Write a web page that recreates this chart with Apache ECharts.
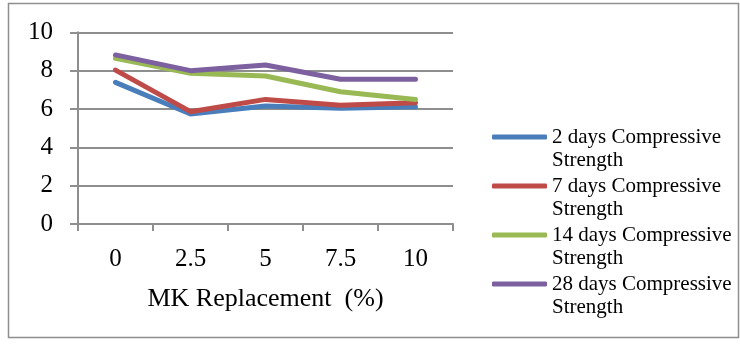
<!DOCTYPE html>
<html>
<head>
<meta charset="utf-8">
<style>
html,body{margin:0;padding:0;background:#fff;}
#c{width:740px;height:347px;}
</style>
<script src="https://cdn.jsdelivr.net/npm/echarts@6/dist/echarts.min.js"></script>
</head>
<body>
<div id="c"></div>
<script>
const categories = ['0', '2.5', '5', '7.5', '10'];
const seriesNames = ['2 days Compressive Strength', '7 days Compressive Strength', '14 days Compressive Strength', '28 days Compressive Strength'];
const days2 = [7.39, 5.74, 6.16, 6.04, 6.12];
const days7 = [8.03, 5.86, 6.50, 6.19, 6.33];
const days14 = [8.64, 7.86, 7.72, 6.90, 6.50];
const days28 = [8.82, 8.00, 8.29, 7.55, 7.55];
const yTicks = [0, 2, 4, 6, 8, 10];
const xTitle = 'MK Replacement  (%)';

const colors = ['#4a7ebb', '#be4b48', '#98b954', '#7d60a0'];
const values = [days2, days7, days14, days28];
const font = '"Liberation Serif","Times New Roman",serif';
const gray = '#8e8e8e';

const chart = echarts.init(document.getElementById('c'), null, {renderer: 'canvas'});
chart.setOption({
  animation: false,
  backgroundColor: '#fff',
  graphic: [{
    type: 'rect', shape: {x: 8.5, y: 3.5, width: 730, height: 334},
    style: {fill: 'none', stroke: gray, lineWidth: 1.5}, silent: true, z: -1
  }],
  grid: {left: 78, right: 287, top: 32.3, bottom: 123},
  xAxis: {
    type: 'category', data: categories, boundaryGap: true,
    name: xTitle, nameLocation: 'middle', nameGap: 62,
    nameTextStyle: {fontFamily: font, fontSize: 26, color: '#000'},
    axisLine: {show: true, lineStyle: {color: gray, width: 2}},
    axisTick: {show: true, inside: false, length: 7, lineStyle: {color: gray, width: 2}},
    axisLabel: {fontFamily: font, fontSize: 25, color: '#000', margin: 23}
  },
  yAxis: {
    type: 'value', min: yTicks[0], max: yTicks[yTicks.length - 1], interval: 2,
    axisLine: {show: true, lineStyle: {color: gray, width: 2}},
    axisTick: {show: true, inside: false, length: 8, lineStyle: {color: gray, width: 2}},
    splitLine: {show: true, lineStyle: {color: gray, width: 2}},
    axisLabel: {fontFamily: font, fontSize: 25, color: '#000', margin: 25}
  },
  legend: {
    orient: 'vertical', left: 492, top: 102.5, padding: 0,
    itemWidth: 55, itemHeight: 5, itemGap: -20, icon: 'roundRect',
    data: seriesNames.map((n, i) => ({name: n, itemStyle: {color: colors[i]}})),
    formatter: n => '\n' + n.replace(' Strength', '\nStrength'),
    textStyle: {fontFamily: font, fontSize: 21, color: '#000', lineHeight: 23}
  },
  series: seriesNames.map((n, i) => ({
    name: n, type: 'line', data: values[i], showSymbol: false, symbol: 'none',
    lineStyle: {color: colors[i], width: 5, cap: 'round', join: 'round'},
    itemStyle: {color: colors[i]}
  }))
});
</script>
</body>
</html>
